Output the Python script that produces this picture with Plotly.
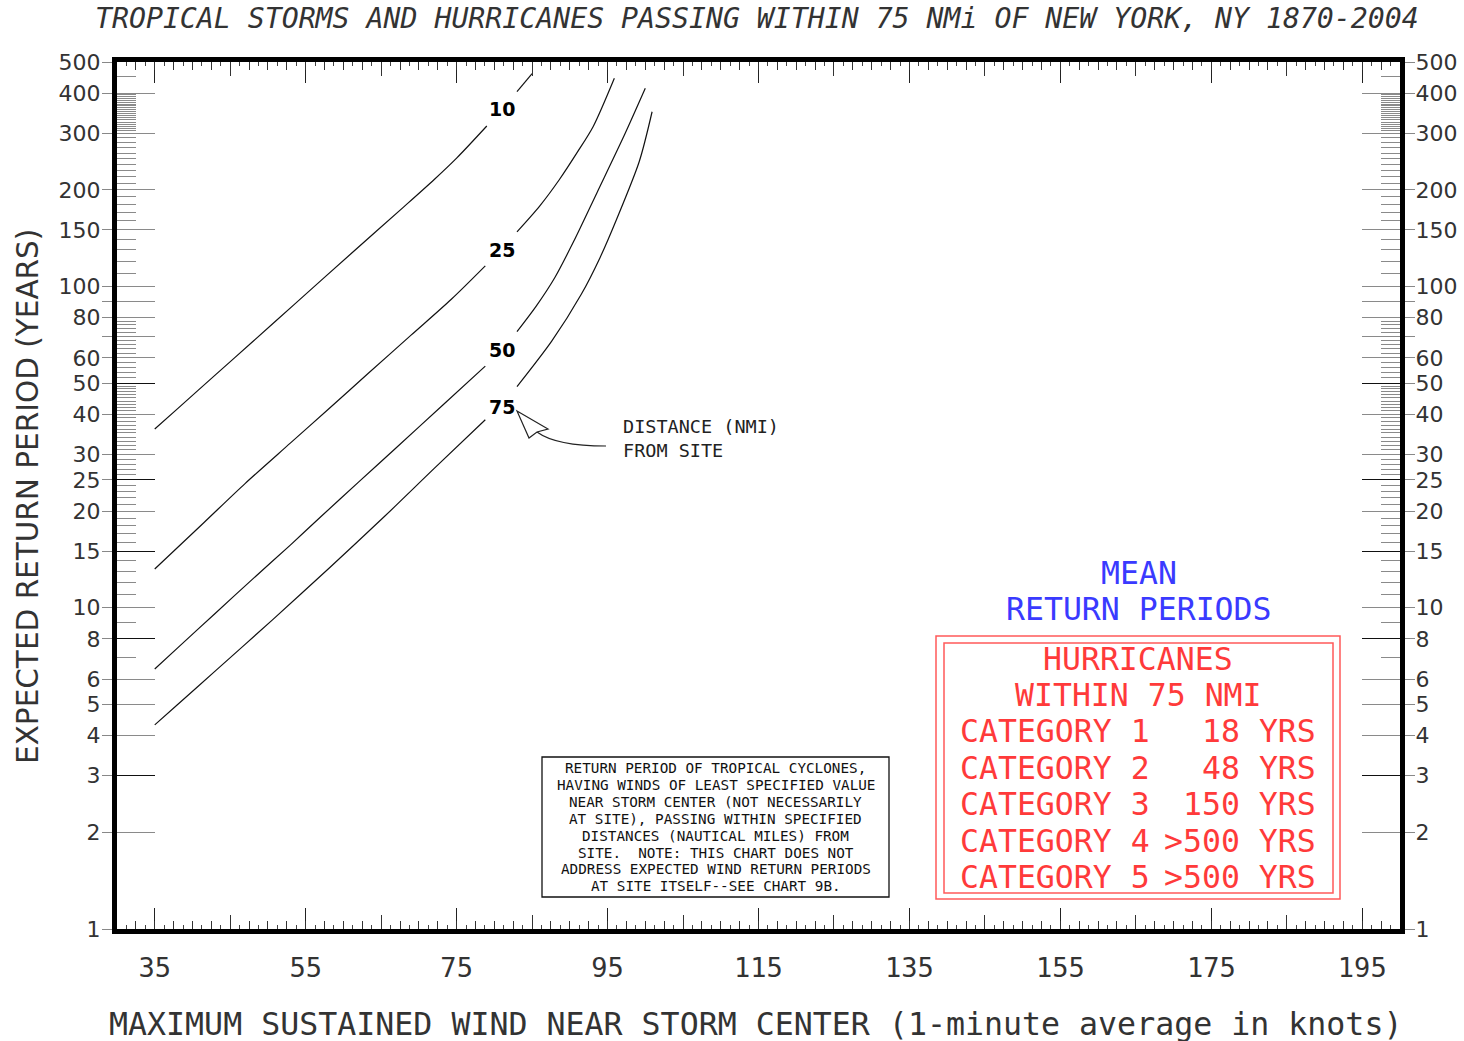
import numpy as np
import plotly.graph_objects as go

# ---------------- data ----------------
x_tick_vals = [35, 55, 75, 95, 115, 135, 155, 175, 195]
x_mid_ticks = [45, 65, 85, 105, 125, 145, 165, 185]

y_tick_vals = [1, 2, 3, 4, 5, 6, 8, 10, 15, 20, 25, 30, 40, 50, 60, 70, 80, 90,
               100, 150, 200, 300, 400, 500]
y_tick_text = ["1", "2", "3", "4", "5", "6", "8", "10", "15", "20", "25", "30", "40",
               "50", "60", "", "80", "", "100", "150", "200", "300", "400", "500"]
y_long_ticks = [2, 3, 4, 5, 6, 8, 10, 15, 20, 25, 30, 40, 50, 60, 70, 80, 90,
                100, 150, 200, 300, 400]
y_dark_ticks = [3, 8, 15, 25, 50]
y_minor_ticks = ([7, 9, 11, 12, 13, 14, 16, 17, 18, 19, 21, 22, 23, 24, 26, 27, 28, 29]
                 + list(range(31, 40)) + list(range(41, 50)) + [52, 54, 56, 58]
                 + [62, 64, 66, 68, 72, 74, 76, 78]
                 + [110, 120, 130, 140, 160, 170, 180, 190]
                 + list(range(210, 300, 10)) + list(range(305, 400, 5)) + [450])

# distance curves (knots, years); None = gap for the curve label
c10_knots = [35, 38, 43, 48, 53.5, 61, 68, 72, 75, 79, None, 83, 85]
c10_years = [36, 41.6, 53, 67.4, 88, 126.5, 177, 215, 251, 316, None, 404, 460]

c25_knots = [35, 41.5, 47, 53, 58, 63.3, 69, 74.3, 78.8, None, 83, 86, 88.6, 91, 93.1, 95.9]
c25_years = [13.2, 18.4, 24.4, 32.6, 41.5, 53.7, 70.7, 91.3, 116, None, 148, 178, 215, 262, 315, 445]

c50_knots = [35, 38, 43, 48, 53, 57, 62, 67, 73, 78.8, None, 83, 85.5, 88, 90.5, 93.6, 97.2, 100]
c50_years = [6.45, 7.49, 9.6, 12.3, 15.7, 19.2, 24.6, 31.5, 42.4, 56.5, None, 72.4, 86.6, 106.5, 138, 196, 295, 414]

c75_knots = [35, 38, 43, 50.6, 58.2, 65.5, 72, 78.8, None, 83, 87.6, 91.5, 94, 96.2, 99.2, 100.9]
c75_years = [4.32, 4.99, 6.35, 9.17, 13.35, 19.3, 27.1, 38.5, None, 48.8, 67.6, 94.4, 123, 162, 245, 350]

curve_names = ["10", "25", "50", "75"]
label_knots = [81, 81, 81, 81]
label_years = [357, 130, 63.5, 42.3]

hurr_categories = ["CATEGORY 1", "CATEGORY 2", "CATEGORY 3", "CATEGORY 4", "CATEGORY 5"]
hurr_periods = ["18 YRS", "48 YRS", "150 YRS", ">500 YRS", ">500 YRS"]

note_lines = [
    "RETURN PERIOD OF TROPICAL CYCLONES,",
    "HAVING WINDS OF LEAST SPECIFIED VALUE",
    "NEAR STORM CENTER (NOT NECESSARILY",
    "AT SITE), PASSING WITHIN SPECIFIED",
    "DISTANCES (NAUTICAL MILES) FROM",
    "SITE.\u00a0 NOTE: THIS CHART DOES NOT",
    "ADDRESS EXPECTED WIND RETURN PERIODS",
    "AT SITE ITSELF--SEE CHART 9B.",
]

title_text = "TROPICAL STORMS AND HURRICANES PASSING WITHIN 75 NMi OF NEW YORK, NY 1870-2004"
x_title = "MAXIMUM SUSTAINED WIND NEAR STORM CENTER (1-minute average in knots)"
y_title = "EXPECTED RETURN PERIOD (YEARS)"
pointer_text = "DISTANCE (NMI)<br>FROM SITE"

# ---------------- layout geometry ----------------
W, H = 1464, 1041
L, R, T, B = 117, 1400, 62, 929


def px(xp):
    return (xp - L) / (R - L)


def py(yp):
    return (B - yp) / (B - T)


MONO = "DejaVu Sans Mono"
SANS = "DejaVu Sans"

fig = go.Figure()
for kn, yr in [(c10_knots, c10_years), (c25_knots, c25_years),
               (c50_knots, c50_years), (c75_knots, c75_years)]:
    fig.add_trace(go.Scatter(x=kn, y=yr, mode="lines", connectgaps=False,
                             line=dict(color="#111", width=1.2, shape="spline", smoothing=0.8),
                             hoverinfo="skip", showlegend=False))

# empty traces so that the overlaid tick-only axes get drawn
for xa, ya in [("x2", "y"), ("x3", "y"), ("x", "y3"), ("x", "y4"), ("x", "y2")]:
    fig.add_trace(go.Scatter(x=[], y=[], xaxis=xa, yaxis=ya, mode="lines",
                             hoverinfo="skip", showlegend=False))

annotations = []
# curve labels
for name, kx, ky in zip(curve_names, label_knots, label_years):
    annotations.append(dict(x=kx, y=np.log10(ky), xref="x", yref="y", text="<b>" + name + "</b>",
                            showarrow=False, font=dict(family=SANS, size=19, color="black"),
                            xanchor="center", yanchor="middle"))


def txt(text, xp, yp, size, color="#333", family=MONO, xanchor="center", align="center", **kw):
    annotations.append(dict(x=px(xp), y=py(yp), xref="paper", yref="paper", text=text,
                            showarrow=False, align=align,
                            font=dict(family=family, size=size, color=color, **kw),
                            xanchor=xanchor, yanchor="middle"))


txt(title_text, 757, 18, 28.2, color="#333", style="italic")
txt(x_title, 755, 1024, 31.6, color="#333")
annotations.append(dict(x=px(28), y=py(497), xref="paper", yref="paper", text=y_title,
                        textangle=-90, showarrow=False,
                        font=dict(family=SANS, size=29.5, color="#333"),
                        xanchor="center", yanchor="middle"))

txt(pointer_text, 621, 439, 18.5, color="#222", xanchor="left", align="left")

# note box
for i, line in enumerate(note_lines):
    txt(line, 715.5, 768 + i * 16.9, 14.3, color="#111")

# mean return periods
BLUE = "#3a3aff"
RED = "#ff3a3a"
txt("MEAN", 1139, 573, 31.5, color=BLUE)
txt("RETURN PERIODS", 1139, 609, 31.5, color=BLUE)
txt("HURRICANES", 1138, 659, 31.5, color=RED)
txt("WITHIN 75 NMI", 1138, 695, 31.5, color=RED)
for i, (cat, per) in enumerate(zip(hurr_categories, hurr_periods)):
    yy = 731 + i * 36.5
    txt(cat, 958, yy, 31.5, color=RED, xanchor="left")
    txt(per, 1318, yy, 31.5, color=RED, xanchor="right")

shapes = []


def rect(x0, y0, x1, y1, color, width):
    shapes.append(dict(type="rect", xref="paper", yref="paper", x0=px(x0), x1=px(x1),
                       y0=py(y1), y1=py(y0), line=dict(color=color, width=width),
                       fillcolor="rgba(0,0,0,0)", layer="above"))


rect(542, 757, 889, 897, "#111", 1.3)
rect(936, 636, 1340, 899, "#ff5a5a", 1.5)
rect(944, 643, 1333, 893, "#ff5a5a", 1.5)

# curved pointer from the text to the "75" label
p_tail = (606, 446)
p_ctrl = (556, 446)
p_notch = (537, 432)
shapes.append(dict(type="path", xref="paper", yref="paper",
                   path="M %f,%f Q %f,%f %f,%f" % (px(p_tail[0]), py(p_tail[1]),
                                                   px(p_ctrl[0]), py(p_ctrl[1]),
                                                   px(p_notch[0]), py(p_notch[1])),
                   line=dict(color="#222", width=1.2), layer="above"))
head = [(517, 411), (548, 429), (537, 432), (529, 438)]
shapes.append(dict(type="path", xref="paper", yref="paper",
                   path="M " + " L ".join("%f,%f" % (px(a), py(b)) for a, b in head) + " Z",
                   line=dict(color="#222", width=1.2), fillcolor="white", layer="above"))

YR = [0, np.log10(500)]
fig.update_layout(
    width=W, height=H,
    margin=dict(l=L, r=W - R, t=T, b=H - B, pad=0, autoexpand=False),
    paper_bgcolor="white", plot_bgcolor="white",
    showlegend=False,
    annotations=annotations,
    shapes=shapes,
    xaxis=dict(range=[30, 200], tickmode="array", tickvals=x_tick_vals, automargin=False,
               ticks="inside", ticklen=21, tickwidth=1, tickcolor="#222",
               showline=True, linewidth=5, linecolor="black", mirror="ticks",
               showgrid=False, zeroline=False,
               tickfont=dict(family=MONO, size=27, color="#333"),
               ticklabelstandoff=11,
               minor=dict(dtick=1.25, tick0=30, ticks="inside", ticklen=4,
                          tickcolor="#444", tickwidth=1, showgrid=False)),
    xaxis2=dict(range=[30, 200], overlaying="x", anchor="y", side="bottom", automargin=False,
                tickmode="linear", tick0=30, dtick=2.5, ticks="inside", ticklen=8,
                tickcolor="#333", tickwidth=1, showticklabels=False, showgrid=False,
                zeroline=False, showline=False, mirror="ticks"),
    xaxis3=dict(range=[30, 200], overlaying="x", anchor="y", side="bottom", automargin=False,
                tickmode="array", tickvals=x_mid_ticks, ticks="inside", ticklen=14,
                tickcolor="#333", tickwidth=1, showticklabels=False, showgrid=False,
                zeroline=False, showline=False, mirror="ticks"),
    yaxis=dict(type="log", range=YR, tickmode="array", automargin=False,
               tickvals=y_tick_vals, ticktext=y_tick_text,
               ticks="outside", ticklen=10, tickwidth=1, tickcolor="#888",
               showline=True, linewidth=5, linecolor="black", mirror="ticks",
               showgrid=False, zeroline=False,
               tickfont=dict(family=SANS, size=22, color="#333"),
               ticklabelstandoff=-3),
    yaxis2=dict(type="log", range=YR, overlaying="y", anchor="x", automargin=False,
                side="right", tickmode="array", tickvals=y_tick_vals, ticktext=y_tick_text,
                ticks="outside", ticklen=10, tickcolor="rgba(0,0,0,0)",
                showline=False, showgrid=False, zeroline=False,
                tickfont=dict(family=SANS, size=22, color="#333")),
    yaxis3=dict(type="log", range=YR, overlaying="y", anchor="x", automargin=False,
                side="left", tickmode="array", tickvals=y_long_ticks,
                ticks="inside", ticklen=38, tickwidth=1, tickcolor="#8a8a8a",
                showticklabels=False, showline=False, showgrid=False, zeroline=False,
                mirror="ticks",
                minor=dict(tickmode="array", tickvals=y_minor_ticks, ticks="inside",
                           ticklen=19, tickwidth=1, tickcolor="#8a8a8a", showgrid=False)),
    yaxis4=dict(type="log", range=YR, overlaying="y", anchor="x", automargin=False,
                side="left", tickmode="array", tickvals=y_dark_ticks,
                ticks="inside", ticklen=38, tickwidth=1, tickcolor="#111",
                showticklabels=False, showline=False, showgrid=False, zeroline=False,
                mirror="ticks"),
)

fig.write_html("out.html", config={"displayModeBar": False},
               post_script="document.body.style.margin='0';document.body.style.overflow='hidden';")
